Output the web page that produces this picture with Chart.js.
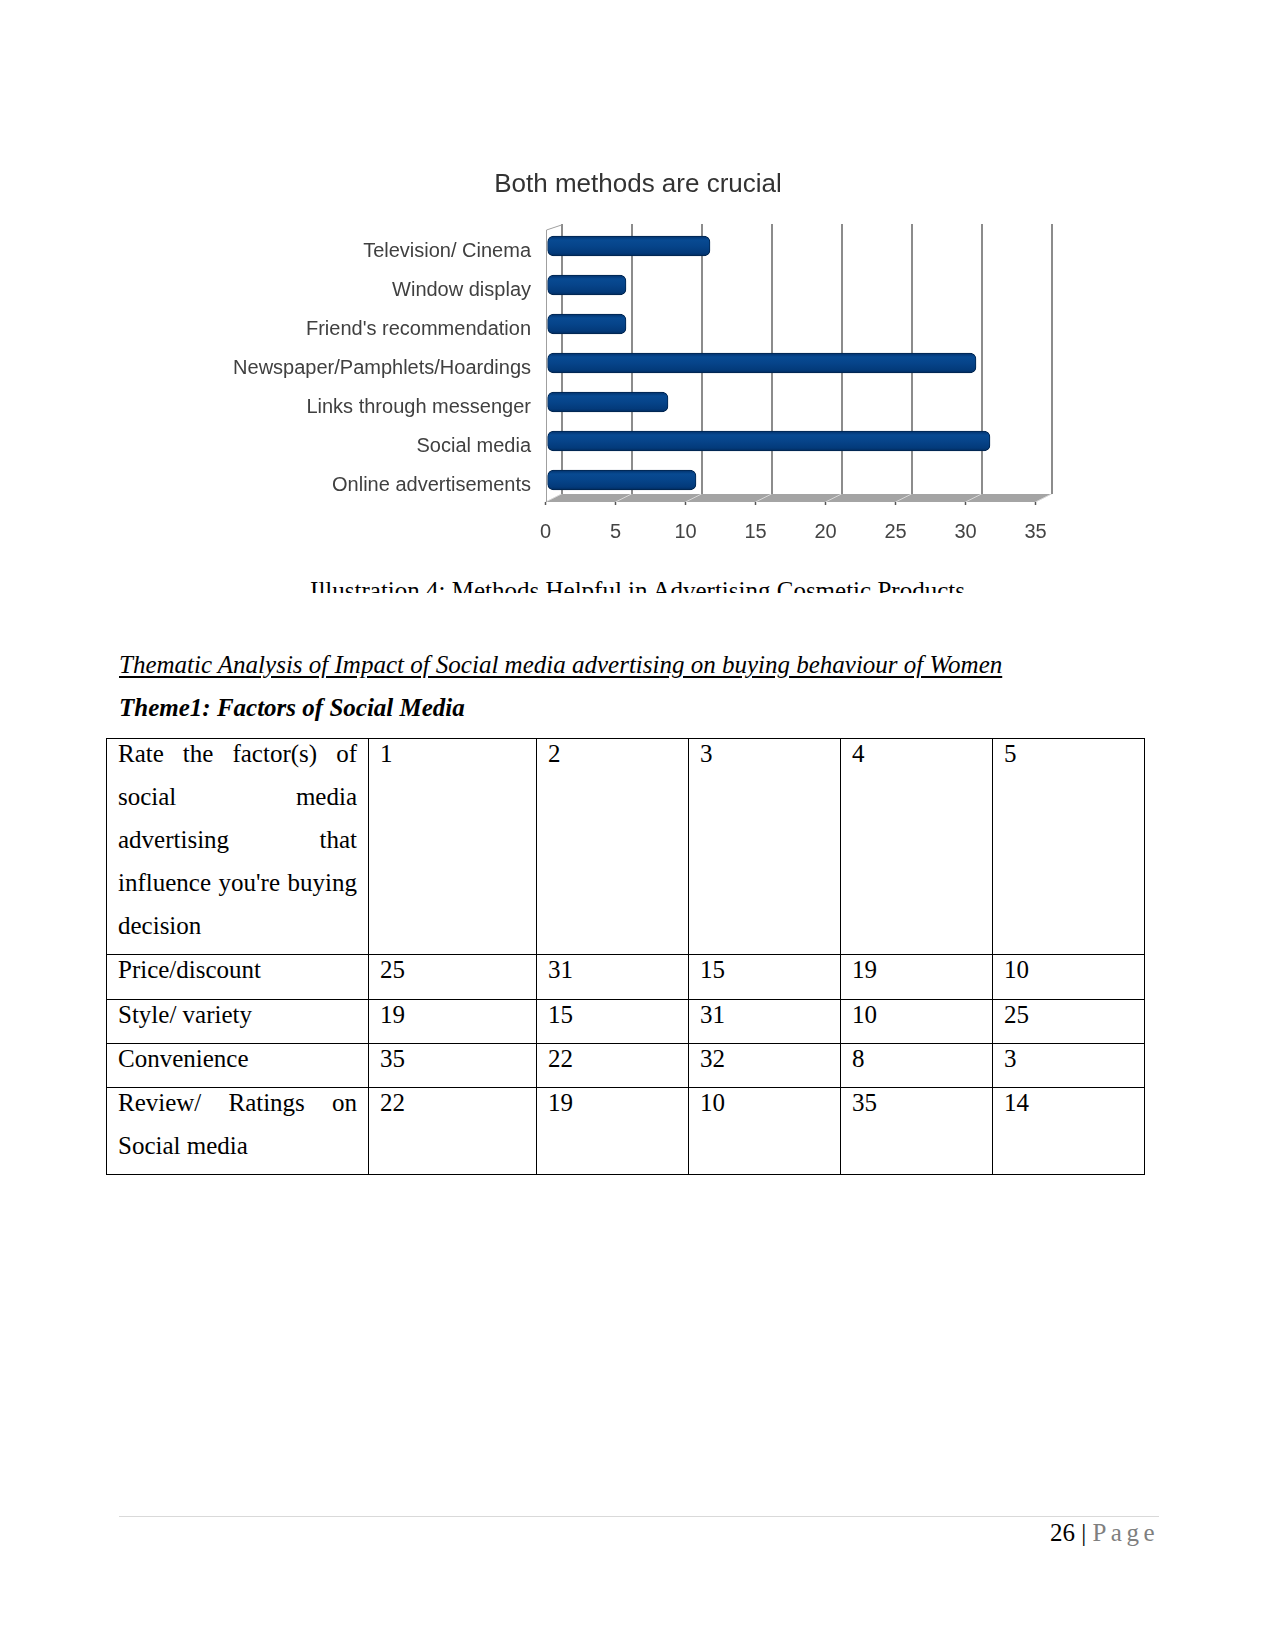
<!DOCTYPE html>
<html>
<head>
<meta charset="utf-8">
<script src="https://cdn.jsdelivr.net/npm/chart.js@4.4.1/dist/chart.umd.min.js"></script>
<style>
  body { margin: 0; background: #fff; }
  .page {
    position: relative;
    width: 1275px;
    height: 1651px;
    font-family: "Liberation Serif", "Times New Roman", serif;
    font-size: 25px;
    color: #000;
    overflow: hidden;
  }
  #chartBox { position: absolute; left: 188px; top: 150px; width: 900px; height: 420px; }
  .caption {
    position: absolute; left: 0; width: 1275px; top: 577px; height: 16px;
    overflow: hidden; text-align: center; font-size: 25px; line-height: 28.75px;
  }
  .headings { position: absolute; left: 119px; top: 643px; line-height: 43.2px; }
  .headings .u { font-style: italic; text-decoration: underline; text-underline-offset: 3px; }
  .headings .b { font-style: italic; font-weight: bold; }
  table {
    position: absolute; left: 106px; top: 738px;
    border-collapse: collapse; table-layout: fixed;
  }
  td {
    border: 1.5px solid #000; vertical-align: top;
    padding: 0 11px; line-height: 43.1px; font-size: 25px;
  }
  td .in { position: relative; top: -7px; }
  .jl { text-align: justify; text-align-last: justify; }
  .footer-line { position: absolute; left: 119px; width: 1040px; top: 1516px; height: 1px; background: #d9d9d9; }
  .pageno { position: absolute; right: 116px; top: 1518px; font-size: 25px; line-height: 30px; }
  .pageno span { color: #7f7f7f; letter-spacing: 4.5px; }
</style>
</head>
<body>
<div class="page">
  <div id="chartBox"><canvas id="methodsChart" width="900" height="420"></canvas></div>
  <div class="caption">Illustration 4: Methods Helpful in Advertising Cosmetic Products</div>

  <div class="headings">
    <div class="u">Thematic Analysis of Impact of Social media advertising on buying behaviour of Women</div>
    <div class="b">Theme1: Factors of Social Media</div>
  </div>

  <table id="factorTable"></table>

  <div class="footer-line"></div>
  <div class="pageno">26 | <span>Page</span></div>
</div>

<script>
// chart data
const chartTitle = "Both methods are crucial";
const methods = [
  "Television/ Cinema",
  "Window display",
  "Friend's recommendation",
  "Newspaper/Pamphlets/Hoardings",
  "Links through messenger",
  "Social media",
  "Online advertisements",
];
const responses = [11, 5, 5, 30, 8, 31, 10];
const xTickValues = [0, 5, 10, 15, 20, 25, 30, 35];

// table data
const headerLines = ["Rate the factor(s) of", "social media", "advertising that", "influence you're buying", "decision"];
const ratingCols = ["1", "2", "3", "4", "5"];
const factorLines = [
  ["Price/discount"],
  ["Style/ variety"],
  ["Convenience"],
  ["Review/ Ratings on", "Social media"],
];
const ratingCounts = [
  [25, 31, 15, 19, 10],
  [19, 15, 31, 10, 25],
  [35, 22, 32, 8, 3],
  [22, 19, 10, 35, 14],
];
const colWidths = [262, 168, 152, 152, 152, 152];

function buildTable() {
  const table = document.getElementById("factorTable");
  let html = "<colgroup>" + colWidths.map((w) => `<col style="width:${w}px">`).join("") + "</colgroup>";

  const labelCell = (lines) =>
    "<td><div class='in'>" +
    lines.map((l, i) => `<div class="${i < lines.length - 1 ? "jl" : ""}">${l}</div>`).join("") +
    "</div></td>";

  html += "<tr>" + labelCell(headerLines) + ratingCols.map((c) => `<td><div class="in">${c}</div></td>`).join("") + "</tr>";
  factorLines.forEach((lines, r) => {
    html += "<tr>" + labelCell(lines) + ratingCounts[r].map((v) => `<td><div class="in">${v}</div></td>`).join("") + "</tr>";
  });
  table.innerHTML = html;
}
buildTable();

// fake 3D floor, back-wall grid and ticks like the office chart
const FRONT = -10.5;
const BACK = 5.5;
const floorPlugin = {
  id: "floor3d",
  beforeDatasetsDraw(chart) {
    const { ctx, chartArea, scales } = chart;
    const x = scales.x;
    const yBack = chartArea.bottom - 5.5;
    const yFront = chartArea.bottom + 2.5;
    const x0 = x.getPixelForValue(xTickValues[0]);
    const x1 = x.getPixelForValue(xTickValues[xTickValues.length - 1]);
    ctx.save();

    // floor
    ctx.fillStyle = "#a4a4a4";
    ctx.beginPath();
    ctx.moveTo(x0 + FRONT, yFront);
    ctx.lineTo(x1 + FRONT, yFront);
    ctx.lineTo(x1 + BACK, yBack);
    ctx.lineTo(x0 + BACK, yBack);
    ctx.closePath();
    ctx.fill();

    ctx.strokeStyle = "#d8d8d8";
    ctx.lineWidth = 1;
    xTickValues.forEach((v) => {
      const px = x.getPixelForValue(v);
      ctx.beginPath();
      ctx.moveTo(px + FRONT, yFront);
      ctx.lineTo(px + BACK, yBack);
      ctx.stroke();
    });

    // back wall grid lines
    ctx.strokeStyle = "#8c8c8c";
    ctx.lineWidth = 2;
    xTickValues.forEach((v) => {
      const px = Math.round(x.getPixelForValue(v) + BACK);
      ctx.beginPath();
      ctx.moveTo(px, chartArea.top - 2.5);
      ctx.lineTo(px, yBack);
      ctx.stroke();
    });

    // left wall edge
    ctx.strokeStyle = "#a0a0a0";
    ctx.lineWidth = 1;
    ctx.beginPath();
    ctx.moveTo(Math.round(x0 + FRONT) + 0.5, yFront);
    ctx.lineTo(Math.round(x0 + FRONT) + 0.5, chartArea.top + 3.5);
    ctx.lineTo(x0 + BACK, chartArea.top - 1.5);
    ctx.stroke();

    // tick marks under the floor
    ctx.strokeStyle = "#555";
    ctx.lineWidth = 1.5;
    xTickValues.forEach((v) => {
      const px = x.getPixelForValue(v) + FRONT;
      ctx.beginPath();
      ctx.moveTo(px, yFront);
      ctx.lineTo(px, yFront + 3);
      ctx.stroke();
    });
    ctx.restore();
  },
};

function barGradient(context) {
  const chart = context.chart;
  const yScale = chart.scales.y;
  if (!chart.chartArea || !yScale) return "#004080";
  const yc = yScale.getPixelForValue(context.dataIndex);
  const g = chart.ctx.createLinearGradient(0, yc - 10, 0, yc + 10);
  g.addColorStop(0, "#02306a");
  g.addColorStop(0.2, "#084a92");
  g.addColorStop(0.5, "#06448a");
  g.addColorStop(0.85, "#033a7a");
  g.addColorStop(1, "#012a5c");
  return g;
}

const ctx = document.getElementById("methodsChart").getContext("2d");
new Chart(ctx, {
  type: "bar",
  data: {
    labels: methods,
    datasets: [
      {
        data: responses,
        base: -0.6,
        clip: false,
        backgroundColor: barGradient,
        borderColor: "#01254f",
        borderWidth: 1,
        borderSkipped: false,
        borderRadius: 6,
        barThickness: 20,
      },
    ],
  },
  options: {
    indexAxis: "y",
    responsive: false,
    animation: false,
    layout: { padding: { left: 42, right: 42, top: 0, bottom: 10.5 } },
    plugins: {
      legend: { display: false },
      tooltip: { enabled: false },
      title: {
        display: true,
        text: chartTitle,
        color: "#333",
        font: { family: "Liberation Sans", size: 26, weight: "normal", lineHeight: 1.2 },
        padding: { top: 18.8, bottom: 26.5 },
      },
    },
    scales: {
      x: {
        min: 0,
        max: 35,
        afterBuildTicks: (scale) => {
          scale.ticks = xTickValues.map((v) => ({ value: v }));
        },
        afterFit: (scale) => {
          scale.height = 60;
        },
        grid: { display: false, drawTicks: false },
        border: { display: false },
        ticks: {
          color: "#444",
          padding: 21,
          labelOffset: FRONT,
          maxRotation: 0,
          font: { family: "Liberation Sans", size: 20 },
        },
      },
      y: {
        afterFit: (scale) => {
          scale.width = 326;
        },
        grid: { display: false, drawTicks: false },
        border: { display: false },
        ticks: {
          color: "#404040",
          padding: 25,
          labelOffset: 5,
          font: { family: "Liberation Sans", size: 20 },
        },
      },
    },
  },
  plugins: [floorPlugin],
});
</script>
</body>
</html>
